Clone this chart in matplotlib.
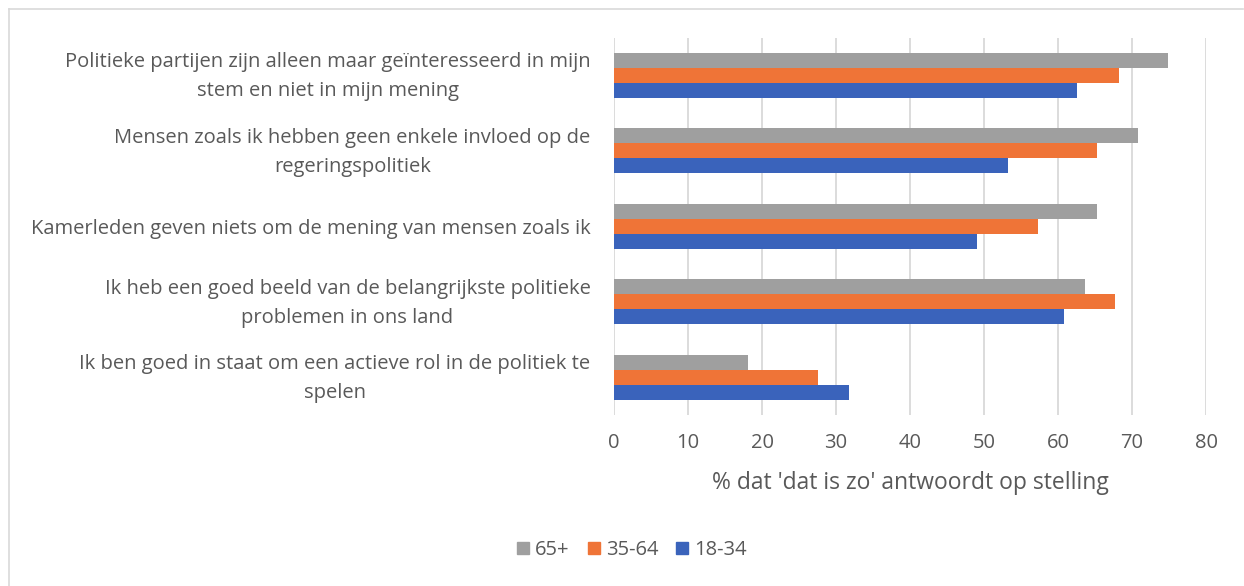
import numpy as np
from matplotlib import pyplot as plt
from matplotlib.lines import Line2D
from matplotlib.transforms import ScaledTranslation

statements = [
    'Politieke partijen zijn alleen maar geïnteresseerd in mijn\nstem en niet in mijn mening',
    'Mensen zoals ik hebben geen enkele invloed op de\nregeringspolitiek',
    'Kamerleden geven niets om de mening van mensen zoals ik',
    'Ik heb een goed beeld van de belangrijkste politieke\nproblemen in ons land',
    'Ik ben goed in staat om een actieve rol in de politiek te\nspelen',
]
groups = ['65+', '35-64', '18-34']
pct_65plus = [74.9, 70.8, 65.3, 63.6, 18.1]
pct_35_64 = [68.3, 65.3, 57.3, 67.7, 27.5]
pct_18_34 = [62.5, 53.2, 49.1, 60.8, 31.8]
xticks = [0, 10, 20, 30, 40, 50, 60, 70, 80]

colors = ['#9f9f9f', '#ef7437', '#3a63bb']
text_col = '#595959'

plt.rcParams['font.family'] = ['Open Sans', 'DejaVu Sans']

fig = plt.figure(figsize=(12.44, 5.86), dpi=100)
ax = fig.add_axes([614 / 1244, 1 - 415 / 586, 592 / 1244, 377.5 / 586])

y = np.arange(len(statements))
h = 0.2
for i, (vals, col, name) in enumerate(zip([pct_65plus, pct_35_64, pct_18_34], colors, groups)):
    ax.barh(y + (i - 1) * h, vals, height=h, color=col, label=name, zorder=3)

ax.set_xlim(0, 80)
ax.set_ylim(len(statements) - 0.5, -0.5)
ax.set_xticks(xticks)
ax.set_yticks(y)
ax.set_yticklabels(statements, multialignment='center', linespacing=1.6)
ax.tick_params(length=0, labelsize=14.5, labelcolor=text_col)
ax.tick_params(axis='y', pad=17)
ax.tick_params(axis='x', pad=13)
# nudge the two-line labels up a bit so they sit centred on the bar group
shift = ScaledTranslation(0, 4 / 72, fig.dpi_scale_trans)
for lab in ax.get_yticklabels():
    if '\n' in lab.get_text():
        lab.set_transform(lab.get_transform() + shift)
ax.grid(axis='x', color='#d9d9d9', linewidth=1.3, zorder=0)
for s in ax.spines.values():
    s.set_visible(False)
ax.set_xlabel("% dat 'dat is zo' antwoordt op stelling", fontsize=16.5, color=text_col, labelpad=13)

handles = [plt.Rectangle((0, 0), 1, 1, color=c) for c in colors]
fig.legend(handles, groups, loc='center', bbox_to_anchor=(0.508, 1 - 550 / 586), ncol=3,
           frameon=False, fontsize=14.5, handlelength=0.6, handleheight=0.6,
           handletextpad=0.3, columnspacing=0.9, labelcolor=text_col)

# chart border (only top and left visible)
fig.add_artist(Line2D([9 / 1244, 1243 / 1244], [1 - 9 / 586, 1 - 9 / 586], color='#d9d9d9', lw=1.2))
fig.add_artist(Line2D([9 / 1244, 9 / 1244], [0, 1 - 9 / 586], color='#d9d9d9', lw=1.2))

fig.savefig('out.png', dpi=100, facecolor='white')
